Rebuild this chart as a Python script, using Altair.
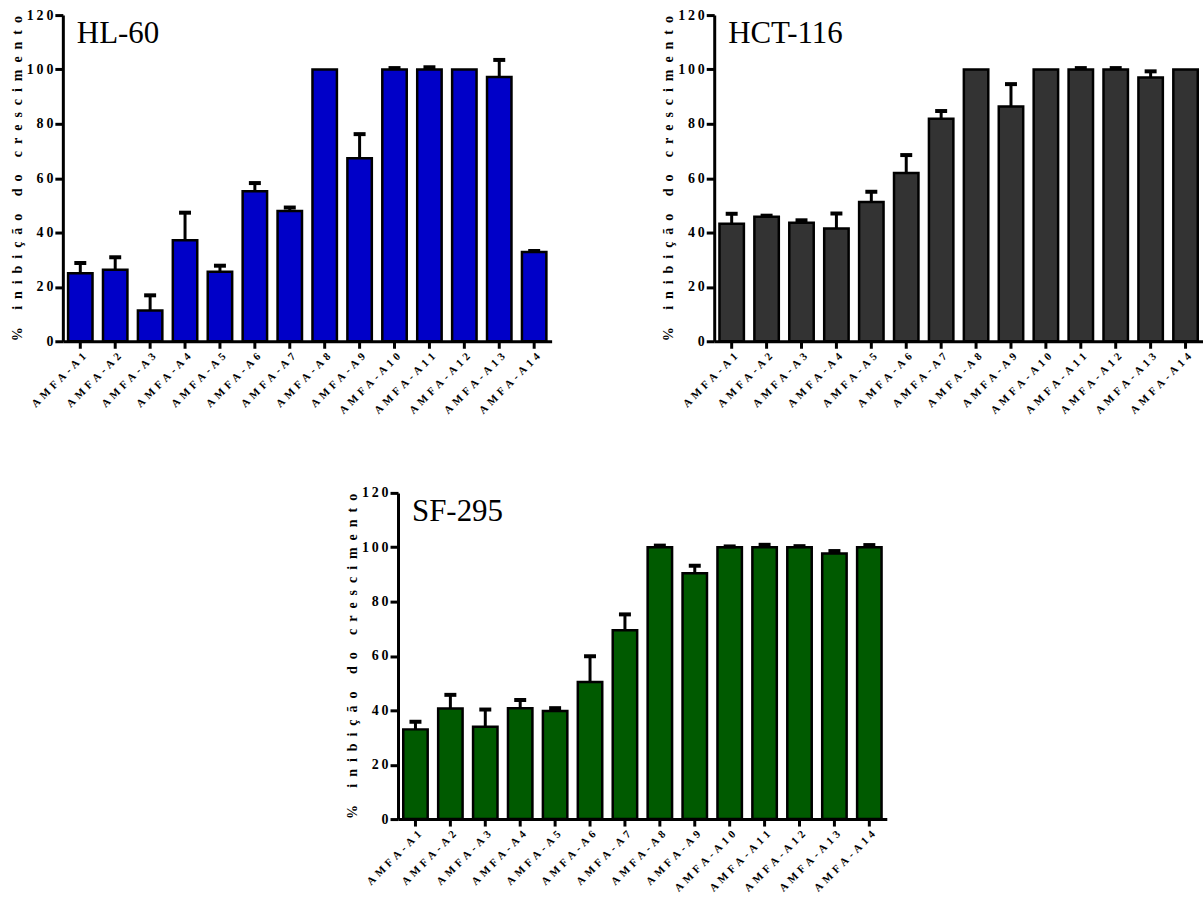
import altair as alt
import pandas as pd

cats = ["AMFA-A1", "AMFA-A2", "AMFA-A3", "AMFA-A4", "AMFA-A5", "AMFA-A6", "AMFA-A7",
        "AMFA-A8", "AMFA-A9", "AMFA-A10", "AMFA-A11", "AMFA-A12", "AMFA-A13", "AMFA-A14"]

hl60_mean = [25.0, 26.3, 11.3, 37.2, 25.6, 55.2, 47.9, 100.0, 67.3, 100.0, 100.0, 100.0, 97.2, 32.8]
hl60_sd = [3.8, 4.6, 5.6, 10.1, 2.2, 3.0, 1.3, 0.0, 8.9, 0.5, 0.8, 0.0, 6.3, 0.4]

hct_mean = [43.2, 45.8, 43.6, 41.5, 51.2, 61.9, 81.9, 100.0, 86.4, 100.0, 100.0, 100.0, 97.0, 100.0]
hct_sd = [3.7, 0.4, 0.9, 5.5, 3.8, 6.6, 2.8, 0.0, 8.2, 0.0, 0.5, 0.5, 2.3, 0.0]

sf_mean = [33.0, 40.7, 34.0, 40.8, 39.8, 50.4, 69.5, 100.0, 90.4, 100.0, 100.0, 100.0, 97.7, 100.0]
sf_sd = [2.8, 5.0, 6.3, 3.0, 1.0, 9.5, 5.8, 0.6, 2.8, 0.3, 0.9, 0.4, 0.9, 0.8]

y_ticks = [0, 20, 40, 60, 80, 100, 120]
y_title_text = "% inibição do crescimento"
y_title = "\u2002".join(list(y_title_text))

FONT = "Liberation Serif"


def panel(name, mean, sd, color):
    df = pd.DataFrame({
        "cat": cats,
        "mean": mean,
        "sd": sd,
        "upper": [m + s for m, s in zip(mean, sd)],
    })
    base = alt.Chart(df)
    x = alt.X(
        "cat:N", sort=cats,
        scale=alt.Scale(paddingInner=0.3, paddingOuter=0.15),
        axis=alt.Axis(
            title=None, labelAngle=-45, labelFont=FONT, labelFontWeight="bold",
            labelFontSize=11, labelColor="black",
            labelExpr="join(split(datum.label, ''), '\u2004')",
            tickSize=7, tickWidth=3, tickColor="black",
            domainWidth=3, domainColor="black", labelPadding=2,
        ),
    )
    y = alt.Y(
        "mean:Q",
        scale=alt.Scale(domain=[0, 120]),
        axis=alt.Axis(
            values=y_ticks, title=y_title, titleFont=FONT, titleFontWeight="bold",
            titleFontSize=14, titleColor="black", titlePadding=2,
            labelFont=FONT, labelFontWeight="bold", labelFontSize=14, labelColor="black",
            labelExpr="join(split(datum.label, ''), '\u2009')",
            tickSize=8, tickWidth=3, tickColor="black",
            domainWidth=3, domainColor="black", grid=False, labelPadding=2,
        ),
    )
    bars = base.mark_bar(color=color, stroke="black", strokeWidth=2.5).encode(x=x, y=y)
    err = base.transform_filter("datum.sd > 0").mark_rule(color="black", strokeWidth=3).encode(
        x=alt.X("cat:N", sort=cats), y="mean:Q", y2="upper:Q")
    cap = base.transform_filter("datum.sd > 0").mark_tick(
        color="black", size=12, thickness=4, opacity=1).encode(
        x=alt.X("cat:N", sort=cats), y="upper:Q")
    label = alt.Chart(pd.DataFrame({"t": [name]})).mark_text(
        font=FONT, fontSize=31, align="left", baseline="alphabetic", color="black").encode(
        x=alt.value(14), y=alt.value(28), text="t:N")
    return alt.layer(bars, err, cap, label).properties(width=490, height=327)


hl = panel("HL-60", hl60_mean, hl60_sd, "#0000C8")
hct = panel("HCT-116", hct_mean, hct_sd, "#333333")
sf = panel("SF-295", sf_mean, sf_sd, "#005A00")

spacer = alt.Chart(pd.DataFrame({"a": [0]})).mark_point(opacity=0, size=1).encode(
    x=alt.X("a:Q", axis=None), y=alt.Y("a:Q", axis=None)).properties(width=283, height=10)

top = alt.hconcat(hl, hct, spacing=110)
bottom = alt.hconcat(spacer, sf, spacing=0)

chart = alt.vconcat(top, bottom, spacing=70).properties(
    padding={"left": 10, "top": 7, "right": 0, "bottom": 0},
    background="white",
).configure_view(strokeWidth=0)

chart.save("out.html", embed_options={"renderer": "svg", "actions": False})
